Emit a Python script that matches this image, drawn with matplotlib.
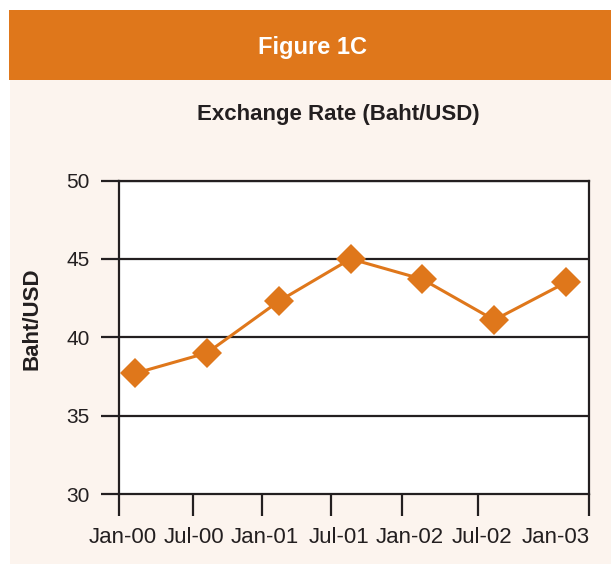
import matplotlib

matplotlib.use("Agg")

import matplotlib.pyplot as plt
import numpy as np
from matplotlib.patches import Rectangle

plt.rcParams["font.family"] = ["Liberation Sans", "DejaVu Sans"]

# data
PERIODS = ["Jan-00", "Jul-00", "Jan-01", "Jul-01", "Jan-02", "Jul-02", "Jan-03"]
BAHT_PER_USD = [37.7, 39.0, 42.3, 45.0, 43.7, 41.1, 43.5]
Y_TICKS = [30, 35, 40, 45, 50]

# label and tick-mark positions in point-index units (the original axis is hand-drawn)
LABEL_POS = [-0.17, 0.82, 1.80, 2.84, 3.83, 4.83, 5.85]
TICK_POS = [-0.226, 0.81, 1.765, 2.73, 3.71, 4.78, 6.32]

COLORS = {
    "orange": "#DF771B",
    "cream": "#FCF4EE",
    "dark": "#231F20",
}

W, H = 611, 564
fig = plt.figure(figsize=(W / 100, H / 100), dpi=100)
fig.patch.set_facecolor("white")

# background panels (pixel -> figure fraction)
fig.add_artist(Rectangle((10 / W, 0), 1 - 10 / W, (H - 80) / H, transform=fig.transFigure,
                         facecolor=COLORS["cream"], edgecolor="none", zorder=-10))
fig.add_artist(Rectangle((9 / W, (H - 80) / H), 1 - 9 / W, 70 / H, transform=fig.transFigure,
                         facecolor=COLORS["orange"], edgecolor="none", zorder=-10))

fig.text(312 / W, (H - 54) / H, "Figure 1C", ha="center", va="baseline",
         fontsize=17, weight="bold", color="white")
fig.text(338.5 / W, (H - 120) / H, "Exchange Rate (Baht/USD)", ha="center", va="baseline",
         fontsize=16, weight="bold", color=COLORS["dark"])
fig.text(32 / W, (H - 319) / H, "Baht/USD", ha="center", va="center", rotation=90,
         fontsize=16, weight="bold", color=COLORS["dark"])

left, right, top, bottom = 119, 589, 180.5, 494
ax = fig.add_axes([left / W, (H - bottom) / H, (right - left) / W, (bottom - top) / H])
ax.set_facecolor("white")

x = np.arange(len(BAHT_PER_USD))
ax.plot(x, BAHT_PER_USD, color=COLORS["orange"], linewidth=2.2, marker="D",
        markersize=15, markeredgewidth=0, zorder=3, clip_on=False)

ax.set_ylim(30, 50)
ax.set_xlim(-0.226, 6.32)
ax.set_yticks(Y_TICKS)
ax.set_yticklabels([str(v) for v in Y_TICKS])
for v in Y_TICKS[1:]:
    ax.axhline(v, color=COLORS["dark"], linewidth=1.6, zorder=1)

ax.set_xticks(LABEL_POS)
ax.set_xticklabels(PERIODS)
ax.set_xticks(TICK_POS, minor=True)

for side in ["left", "right", "bottom", "top"]:
    ax.spines[side].set_color(COLORS["dark"])
    ax.spines[side].set_linewidth(1.6)

ax.tick_params(axis="y", which="major", length=13, width=1.6, color=COLORS["dark"],
               labelsize=15, labelcolor=COLORS["dark"], pad=8)
ax.tick_params(axis="x", which="major", length=0, labelsize=16, labelcolor=COLORS["dark"], pad=24)
ax.tick_params(axis="x", which="minor", length=15.5, width=1.6, color=COLORS["dark"])

fig.savefig("out.png", dpi=100, facecolor=fig.get_facecolor())
